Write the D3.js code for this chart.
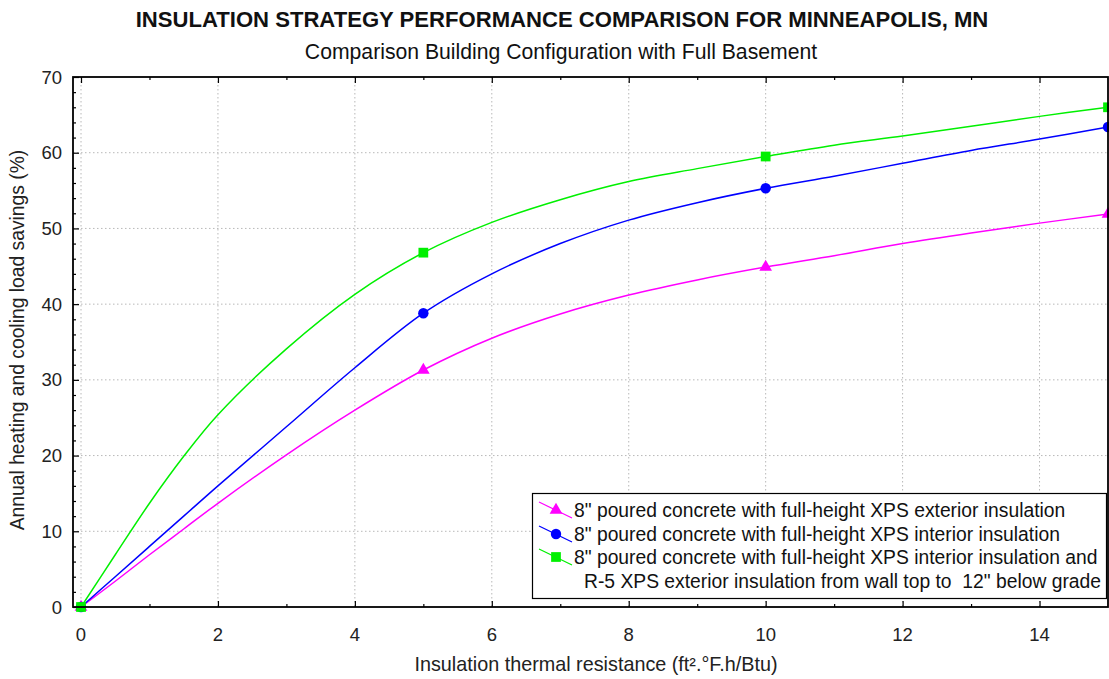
<!DOCTYPE html>
<html>
<head>
<meta charset="utf-8">
<script src="https://cdn.jsdelivr.net/npm/d3@7"></script>
<style>
  html, body { margin: 0; padding: 0; background: #fff; }
  svg { display: block; font-family: "Liberation Sans", Arial, sans-serif; }
</style>
</head>
<body>
<svg id="chart" width="1109" height="679"></svg>
<script>
// ---- data ----
const rValues = [0, 0.5, 1, 1.5, 2, 3, 4, 5, 6, 7, 8, 9, 10, 11, 12, 13, 14, 15];
const exteriorSavings = [0, 3.4, 6.9, 10.3, 13.7, 20.1, 26.0, 31.3, 35.5, 38.7, 41.2, 43.2, 44.9, 46.4, 48.0, 49.4, 50.7, 51.9];
const interiorSavings = [0, 4.0, 8.0, 12.0, 16.0, 23.8, 31.6, 38.8, 44.0, 48.0, 51.1, 53.4, 55.3, 56.9, 58.6, 60.3, 61.8, 63.4];
const combinedSavings = [0, 6.9, 13.7, 19.9, 25.4, 34.1, 41.3, 46.8, 50.8, 53.8, 56.2, 57.9, 59.5, 61.0, 62.2, 63.5, 64.8, 66.0];
const markerR = [0, 5, 10, 15];
const seriesNames = [
  ['8" poured concrete with full-height XPS exterior insulation'],
  ['8" poured concrete with full-height XPS interior insulation'],
  ['8" poured concrete with full-height XPS interior insulation and', 'R-5 XPS exterior insulation from wall top to  12" below grade']
];
const xTickValues = [0, 2, 4, 6, 8, 10, 12, 14];
const yTickValues = [0, 10, 20, 30, 40, 50, 60, 70];
const titleText = "INSULATION STRATEGY PERFORMANCE COMPARISON FOR MINNEAPOLIS, MN";
const subtitleText = "Comparison Building Configuration with Full Basement";
const xTitleText = "Insulation thermal resistance (ft\u00B2.\u00B0F.h/Btu)";
const yTitleText = "Annual heating and cooling load savings (%)";

// ---- layout ----
const svg = d3.select("#chart");
const pLeft = 73, pRight = 1108, pTop = 77, pBottom = 607;
const x = d3.scaleLinear().domain([-0.117, 15]).range([pLeft, pRight]);
const y = d3.scaleLinear().domain([0, 70]).range([pBottom, pTop]);

const series = [
  { values: exteriorSavings, color: "#ff00ff", marker: d3.symbolTriangle, size: 70 },
  { values: interiorSavings, color: "#0000ff", marker: d3.symbolCircle, size: 85 },
  { values: combinedSavings, color: "#00f000", marker: d3.symbolSquare, size: 95 }
];

// titles
svg.append("text").attr("x", 562).attr("y", 27).attr("text-anchor", "middle")
  .attr("font-size", 22.1).attr("font-weight", "bold").attr("fill", "#111").text(titleText);
svg.append("text").attr("x", 561).attr("y", 59).attr("text-anchor", "middle")
  .attr("font-size", 21.2).attr("fill", "#111").text(subtitleText);

// grid
const grid = svg.append("g").attr("stroke", "#b8b8b8").attr("stroke-width", 1).attr("stroke-dasharray", "1.5,2.5");
grid.selectAll("line.vx").data(xTickValues).join("line")
  .attr("x1", d => x(d)).attr("x2", d => x(d)).attr("y1", pTop).attr("y2", pBottom);
grid.selectAll("line.hy").data(yTickValues.filter(v => v > 0 && v < 70)).join("line")
  .attr("x1", pLeft).attr("x2", pRight).attr("y1", d => y(d)).attr("y2", d => y(d));

// axes (ticks pointing inward)
const xMinor = d3.range(1, 15, 2);
const yMinor = d3.range(0, 71, 2).filter(v => v % 10 !== 0);
function styleAxis(g) {
  g.select(".domain").remove();
  g.selectAll(".tick line").attr("stroke", "#000").attr("stroke-width", 1.2);
}
svg.append("g").attr("transform", `translate(0,${pBottom})`).call(d3.axisTop(x).tickValues(xTickValues).tickSize(6).tickFormat("")).call(styleAxis);
svg.append("g").attr("transform", `translate(0,${pBottom})`).call(d3.axisTop(x).tickValues(xMinor).tickSize(3).tickFormat("")).call(styleAxis);
svg.append("g").attr("transform", `translate(0,${pTop})`).call(d3.axisBottom(x).tickValues(xTickValues).tickSize(6).tickFormat("")).call(styleAxis);
svg.append("g").attr("transform", `translate(0,${pTop})`).call(d3.axisBottom(x).tickValues(xMinor).tickSize(3).tickFormat("")).call(styleAxis);
svg.append("g").attr("transform", `translate(${pLeft},0)`).call(d3.axisRight(y).tickValues(yTickValues).tickSize(6).tickFormat("")).call(styleAxis);
svg.append("g").attr("transform", `translate(${pLeft},0)`).call(d3.axisRight(y).tickValues(yMinor).tickSize(3).tickFormat("")).call(styleAxis);

// tick labels
svg.append("g").selectAll("text").data(xTickValues).join("text")
  .attr("x", d => x(d)).attr("y", 641).attr("text-anchor", "middle")
  .attr("font-size", 18.5).attr("fill", "#222").text(d => d);
svg.append("g").selectAll("text").data(yTickValues).join("text")
  .attr("x", 62).attr("y", d => y(d) + 6.5).attr("text-anchor", "end")
  .attr("font-size", 18.5).attr("fill", "#222").text(d => d);

// axis titles
svg.append("text").attr("x", 596).attr("y", 671).attr("text-anchor", "middle")
  .attr("font-size", 19.8).attr("fill", "#222").text(xTitleText);
svg.append("text").attr("transform", `translate(24,${(pTop + pBottom) / 2 - 2}) rotate(-90)`)
  .attr("text-anchor", "middle").attr("font-size", 19.3).attr("fill", "#222").text(yTitleText);

// curves
const line = d3.line().x(d => x(d[0])).y(d => y(d[1])).curve(d3.curveCatmullRom.alpha(0.5));
const plot = svg.append("g");
series.forEach(s => {
  const pts = rValues.map((r, i) => [r, s.values[i]]);
  plot.append("path").datum(pts).attr("d", line)
    .attr("fill", "none").attr("stroke", s.color).attr("stroke-width", 1.5);
});
series.forEach(s => {
  const pts = rValues.map((r, i) => [r, s.values[i]]).filter(p => markerR.includes(p[0]));
  plot.selectAll(null).data(pts).join("path")
    .attr("d", d3.symbol().type(s.marker).size(s.size))
    .attr("transform", d => `translate(${x(d[0])},${y(d[1])})`)
    .attr("fill", s.color);
});

// frame
svg.append("rect").attr("x", pLeft).attr("y", pTop).attr("width", pRight - pLeft).attr("height", pBottom - pTop)
  .attr("fill", "none").attr("stroke", "#000").attr("stroke-width", 1.8);

// legend
const lg = svg.append("g");
lg.append("rect").attr("x", 532.5).attr("y", 493.5).attr("width", 574).attr("height", 105)
  .attr("fill", "#fff").attr("stroke", "#000").attr("stroke-width", 1.2);
const rowY = [510, 534, 557];
series.forEach((s, i) => {
  const cy = rowY[i];
  lg.append("line").attr("x1", 539).attr("y1", cy - 8).attr("x2", 572).attr("y2", cy + 8)
    .attr("stroke", s.color).attr("stroke-width", 1.2);
  lg.append("path").attr("d", d3.symbol().type(s.marker).size(s.size))
    .attr("transform", `translate(556,${cy})`).attr("fill", s.color);
  seriesNames[i].forEach((t, j) => {
    lg.append("text").attr("x", j === 0 ? 574 : 584).attr("y", cy + 7 + j * 23.5)
      .attr("font-size", 19.3).attr("fill", "#111").style("white-space", "pre").text(t);
  });
});
</script>
</body>
</html>
